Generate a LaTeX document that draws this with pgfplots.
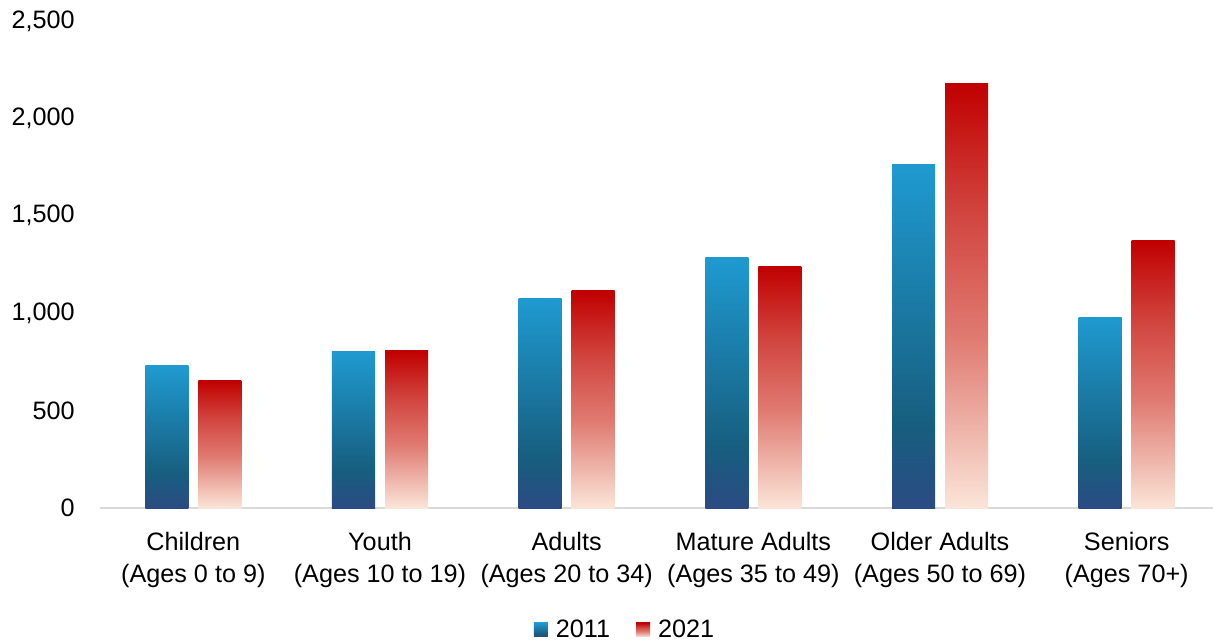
\documentclass[border=0pt]{standalone}
\usepackage{pgfplots}
\pgfplotsset{compat=1.18}
\usepackage{fontspec}
\setmainfont{Liberation Sans}
\definecolor{bA}{HTML}{2B4B83}
\definecolor{bB}{HTML}{175E7F}
\definecolor{bC}{HTML}{1F9AD0}
\definecolor{rA}{HTML}{FBE5D8}
\definecolor{rB}{HTML}{E07B72}
\definecolor{rC}{HTML}{D1443E}
\definecolor{rD}{HTML}{C00000}
\definecolor{axgray}{HTML}{D9D9D9}
\pgfdeclareverticalshading{blueshade}{100bp}{color(0bp)=(bA); color(25bp)=(bA); color(37bp)=(bB); color(75bp)=(bC); color(100bp)=(bC)}
\pgfdeclareverticalshading{redshade}{100bp}{color(0bp)=(rA); color(25bp)=(rA); color(45bp)=(rB); color(60bp)=(rC); color(75bp)=(rD); color(100bp)=(rD)}
\pgfplotsset{
  b11/.style={draw=none, shade, shading=blueshade, bar shift=-13.25bp,
    legend image code/.code={\path[shade, shading=blueshade] (0bp,-3.5bp) rectangle (7bp,3.5bp); \path (9bp,0bp);}},
  b21/.style={draw=none, shade, shading=redshade, bar shift=13.25bp,
    legend image code/.code={\path[shade, shading=redshade] (0bp,-3.5bp) rectangle (7bp,3.5bp); \path (9bp,0bp);}},
}
\begin{document}
\begin{tikzpicture}
\begin{axis}[
  scale only axis,
  width=560bp, height=243.5bp,
  at={(0,0)}, anchor=south west,
  ymin=0, ymax=2500,
  xmin=-0.5, xmax=5.5,
  ytick={0,500,1000,1500,2000,2500},
  xtick={0,1,2,3,4,5},
  xticklabels={{Children\\(Ages 0 to 9)},{Youth\\(Ages 10 to 19)},{Adults\\(Ages 20 to 34)},{Mature Adults\\(Ages 35 to 49)},{Older Adults\\(Ages 50 to 69)},{Seniors\\(Ages 70+)}},
  ybar, bar width=21.5bp,
  axis x line*=bottom, axis y line*=left,
  y axis line style={draw=none},
  x axis line style={draw=axgray, line width=1bp},
  major tick length=0pt,
  scaled y ticks=false,
  /pgf/number format/.cd, 1000 sep={,}, assume math mode=true, /pgfplots/.cd,
  tick label style={font=\fontsize{12.6bp}{16bp}\selectfont, text=black},
  yticklabel style={anchor=east, inner sep=0pt, xshift=-12.5bp},
  xticklabel style={anchor=north, inner sep=0pt, align=center, yshift=-12bp},
  legend style={draw=none, legend columns=-1, at={(0.4697,-0.2505)}, anchor=center,
    font=\fontsize{12.6bp}{15bp}\selectfont,
    /tikz/every even column/.append style={column sep=11bp}},
]
% Children
\addplot[b11] coordinates {(0,729)};
\addplot[b21] coordinates {(0,657)};
% 2011 series
\addplot[b11, forget plot] coordinates {(1,801)};
\addplot[b11, forget plot] coordinates {(2,1073)};
\addplot[b11, forget plot] coordinates {(3,1288)};
\addplot[b11, forget plot] coordinates {(4,1761)};
\addplot[b11, forget plot] coordinates {(5,980)};
% 2021 series
\addplot[b21, forget plot] coordinates {(1,806)};
\addplot[b21, forget plot] coordinates {(2,1114)};
\addplot[b21, forget plot] coordinates {(3,1242)};
\addplot[b21, forget plot] coordinates {(4,2177)};
\addplot[b21, forget plot] coordinates {(5,1371)};
\legend{2011,2021}
\end{axis}
\pgfresetboundingbox
\path[use as bounding box] (-50bp,-67.5bp) rectangle (556.5bp,254bp);
\end{tikzpicture}
\end{document}
